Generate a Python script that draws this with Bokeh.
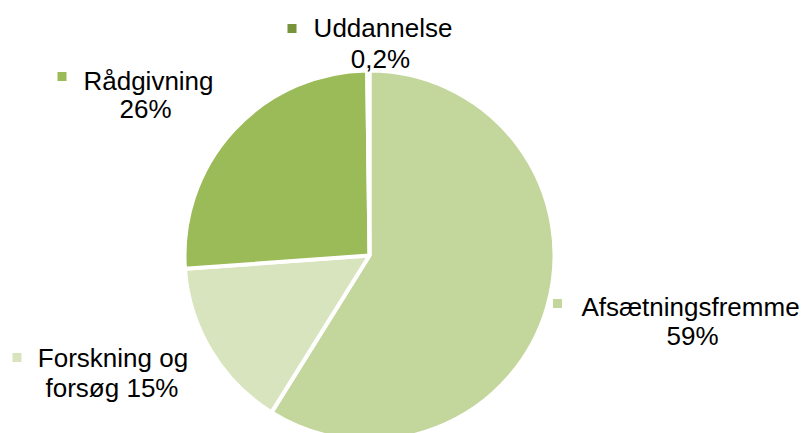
import numpy as np
from bokeh.plotting import figure
from bokeh.models import ColumnDataSource, Range1d
from bokeh.core.properties import value
from bokeh.embed import file_html
from bokeh.resources import INLINE

# ---- data ----
categories = ["Afsætningsfremme", "Forskning og forsøg", "Rådgivning", "Uddannelse"]
shares = [59, 15, 26, 0.2]
share_labels = ["59%", "15%", "26%", "0,2%"]
colors = ["#C3D69B", "#D7E4BD", "#9BBB59", "#77933C"]

# ---- layout (picture-pixel coordinates, y measured downward) ----
W, H = 806, 433
cx, cy, r = 369, 255, 185
FONT = "Liberation Sans"
TXT_SHIFT = 10  # compensate renderer baseline offset

p = figure(width=W, height=H, output_backend="svg",
           toolbar_location=None, x_axis_type=None, y_axis_type=None,
           min_border=0, outline_line_color=None,
           x_range=Range1d(0, W), y_range=Range1d(0, H))
p.grid.visible = False
p.background_fill_color = "white"
p.border_fill_color = "white"

def Y(y):
    return H - y

vals = np.array(shares, dtype=float)
frac = vals / vals.sum()
cum = np.concatenate([[0.0], np.cumsum(frac)])
start = np.pi / 2 - 2 * np.pi * cum[1:]
end = np.pi / 2 - 2 * np.pi * cum[:-1]

src = ColumnDataSource(dict(start=start, end=end, color=colors, name=categories))
p.wedge(x=cx, y=Y(cy), radius=r, radius_units="screen", start_angle="start",
        end_angle="end", fill_color="color", line_color="white", line_width=4,
        source=src)

# labels: (category index, key square center, lines with (center x, baseline y))
label_layout = [
    (0, (557, 303), [(f"{categories[0]}", 690, 316), (share_labels[0], 692, 345)]),
    (1, (16.5, 357), [("Forskning og", 112.5, 367), (f"forsøg {share_labels[1]}", 111.5, 397)]),
    (2, (61.5, 76), [(categories[2], 148, 90), (share_labels[2], 145, 118)]),
    (3, (291.5, 28), [(categories[3], 382.5, 37), (share_labels[3], 380, 68)]),
]

for idx, (kx, ky), lines in label_layout:
    p.scatter(x=[kx], y=[Y(ky)], marker="square", size=9,
              fill_color=colors[idx], line_color=None)
    for txt, tx, ty in lines:
        p.text(x=[tx], y=[Y(ty - TXT_SHIFT)], text=[txt], text_align="center",
               text_baseline="alphabetic", text_font=value(FONT),
               text_font_size="26px", text_color="#000000")

open("out.html", "w").write(file_html(p, INLINE))
